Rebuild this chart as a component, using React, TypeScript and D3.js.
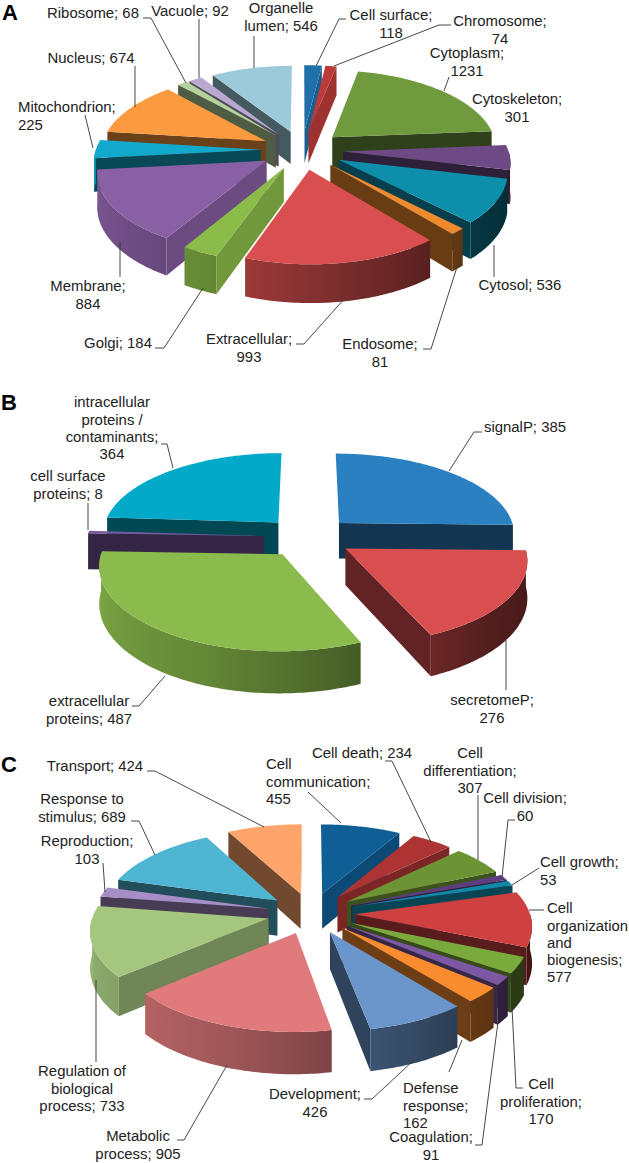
import React from 'react';
import * as d3 from 'd3';

const width = 629;
const height = 1163;

// panel A
const namesA = ['Cell surface', 'Chromosome', 'Cytoplasm', 'Cytoskeleton', 'Cytosol', 'Endosome', 'Extracellular', 'Golgi', 'Membrane', 'Mitochondrion', 'Nucleus', 'Ribosome', 'Vacuole', 'Organelle lumen'];
const valuesA = [118, 74, 1231, 301, 536, 81, 993, 184, 884, 225, 674, 68, 92, 546];
const colorsA = ['#1f6fa8', '#bb3b3a', '#6f9a3e', '#6d4a85', '#0d8fab', '#ef8a2e', '#d94f4f', '#8bbb49', '#8a60a5', '#12a9cc', '#fb9a3e', '#b5d29a', '#b9a9d0', '#9ccadb'];

// panel B
const namesB = ['signalP', 'secretomeP', 'extracellular proteins', 'cell surface proteins', 'intracellular proteins / contaminants'];
const valuesB = [385, 276, 487, 8, 364];
const colorsB = ['#2a80c0', '#d94f4f', '#8bbb4c', '#7a58a0', '#03a9c8'];

// panel C
const namesC = ['Cell communication', 'Cell death', 'Cell differentiation', 'Cell division', 'Cell growth', 'Cell organization and biogenesis', 'Cell proliferation', 'Coagulation', 'Defense response', 'Development', 'Metabolic process', 'Regulation of biological process', 'Reproduction', 'Response to stimulus', 'Transport'];
const valuesC = [455, 234, 307, 60, 53, 577, 170, 91, 162, 426, 905, 733, 103, 689, 424];
const colorsC = ['#0f5f96', '#ae3434', '#6c9434', '#5f3d83', '#0e8aa8', '#cf4040', '#7aaa3c', '#7c57a4', '#f98c2f', '#6a96cc', '#e07a7c', '#a5c67f', '#a78ec6', '#4eb6d2', '#ffa56b'];

type Label = { x: number; y: number; anchor?: string; lines: string[] };

// label and leader layout, in px
const labelsA: Label[] = [
  { x: 93, y: 13, lines: ['Ribosome; 68'] },
  { x: 190, y: 11, lines: ['Vacuole; 92'] },
  { x: 281, y: 8, lines: ['Organelle', 'lumen; 546'] },
  { x: 391, y: 15, lines: ['Cell surface;', '118'] },
  { x: 500, y: 21, lines: ['Chromosome;', '74'] },
  { x: 467, y: 53, lines: ['Cytoplasm;', '1231'] },
  { x: 517, y: 99, lines: ['Cytoskeleton;', '301'] },
  { x: 91, y: 58, lines: ['Nucleus; 674'] },
  { x: 18, y: 107, anchor: 'start', lines: ['Mitochondrion;', '225'] },
  { x: 88, y: 286, lines: ['Membrane;', '884'] },
  { x: 118, y: 343, lines: ['Golgi; 184'] },
  { x: 249, y: 339, lines: ['Extracellular;', '993'] },
  { x: 380, y: 344, lines: ['Endosome;', '81'] },
  { x: 520, y: 285, lines: ['Cytosol; 536'] },
];
const leadersA = [
  [[143, 18], [151, 18], [186, 83]],
  [[199, 19], [199, 78]],
  [[254, 36], [254, 68]],
  [[346, 19], [339, 19], [316, 66]],
  [[451, 25], [439, 25], [334, 66]],
  [[449, 77], [444, 91]],
  [[135, 66], [135, 107]],
  [[85, 115], [93, 148]],
  [[120, 242], [120, 277]],
  [[155, 348], [164, 348], [203, 288]],
  [[296, 344], [304, 344], [345, 298]],
  [[423, 349], [431, 349], [457, 267]],
  [[494, 245], [494, 277]],
];

const labelsB: Label[] = [
  { x: 112, y: 402, lines: ['intracellular', 'proteins /', 'contaminants;', '364'] },
  { x: 68, y: 476, lines: ['cell surface', 'proteins; 8'] },
  { x: 525, y: 427, lines: ['signalP; 385'] },
  { x: 492, y: 700, lines: ['secretomeP;', '276'] },
  { x: 89, y: 701, lines: ['extracellular', 'proteins; 487'] },
];
const leadersB = [
  [[161, 444], [167, 444], [173, 468]],
  [[88, 503], [88, 530]],
  [[482, 432], [474, 432], [449, 471]],
  [[506, 640], [506, 690]],
  [[132, 706], [139, 706], [165, 676]],
];

const labelsC: Label[] = [
  { x: 95, y: 766, lines: ['Transport; 424'] },
  { x: 266, y: 764, anchor: 'start', lines: ['Cell', 'communication;', '455'] },
  { x: 362, y: 753, lines: ['Cell death; 234'] },
  { x: 470, y: 753, lines: ['Cell', 'differentiation;', '307'] },
  { x: 525, y: 798, lines: ['Cell division;', '60'] },
  { x: 540, y: 862, anchor: 'start', lines: ['Cell growth;', '53'] },
  { x: 547, y: 908, anchor: 'start', lines: ['Cell', 'organization', 'and', 'biogenesis;', '577'] },
  { x: 82, y: 799, lines: ['Response to', 'stimulus; 689'] },
  { x: 87, y: 841, lines: ['Reproduction;', '103'] },
  { x: 82, y: 1071, lines: ['Regulation of', 'biological', 'process; 733'] },
  { x: 138, y: 1136, lines: ['Metabolic', 'process; 905'] },
  { x: 315, y: 1094, lines: ['Development;', '426'] },
  { x: 403, y: 1088, anchor: 'start', lines: ['Defense', 'response;', '162'] },
  { x: 431, y: 1137, lines: ['Coagulation;', '91'] },
  { x: 541, y: 1084, lines: ['Cell', 'proliferation;', '170'] },
];
const leadersC = [
  [[147, 771], [155, 771], [264, 827]],
  [[308, 792], [341, 823]],
  [[385, 761], [392, 761], [431, 842]],
  [[478, 795], [478, 860]],
  [[515, 820], [508, 820], [502, 877]],
  [[539, 868], [512, 885]],
  [[544, 910], [529, 910]],
  [[131, 821], [139, 821], [155, 855]],
  [[103, 863], [105, 892]],
  [[96, 980], [96, 1062]],
  [[177, 1140], [184, 1140], [227, 1065]],
  [[364, 1099], [372, 1099], [414, 1060]],
  [[449, 1072], [462, 1040]],
  [[475, 1145], [482, 1145], [498, 1022]],
  [[523, 1088], [516, 1088], [512, 1007]],
];

const panels = [
  { id: 'A', letter: 'A', lx: 2, ly: 20, names: namesA, values: valuesA, colors: colorsA, labels: labelsA, leaders: leadersA, cx: 302, cy: 150, r: 165, k: 78, depth: 33 },
  { id: 'B', letter: 'B', lx: 1, ly: 410, names: namesB, values: valuesB, colors: colorsB, labels: labelsB, leaders: leadersB, cx: 308, cy: 537, r: 177, k: 81, depth: 36 },
  { id: 'C', letter: 'C', lx: 1, ly: 772, names: namesC, values: valuesC, colors: colorsC, labels: labelsC, leaders: leadersC, cx: 311, cy: 913, r: 175, k: 82, depth: 36 },
];

const explode = 0.25;
const persp = 0.12;
const deg = Math.PI / 180;

// how bright a wall is, by the direction it faces (degrees clockwise from the back)
const flatShade = d3.scaleLinear().domain([90, 130, 175, 260]).range([0.88, 0.75, 0.42, 0.45]).clamp(true);
const roundShade = d3.scaleLinear().domain([90, 135, 200, 270]).range([0.3, 0.38, 0.72, 0.92]).clamp(true);

const shade = (c: string, f: number) => {
  const rgb = d3.rgb(c);
  return d3.rgb(rgb.r * f, rgb.g * f, rgb.b * f).formatHex();
};

const linePath = d3.line();

const range = (a0: number, a1: number) => {
  const n = Math.max(2, Math.ceil((a1 - a0) / deg));
  return d3.range(n + 1).map((i) => a0 + ((a1 - a0) * i) / n);
};

const Pie3D = ({ panel }: { panel: (typeof panels)[number] }) => {
  const { cx, cy, r, k, depth, colors, id, names } = panel;
  const arcs = d3.pie<number>().sort(null)(panel.values);

  const slices = arcs.map((d) => {
    const mid = (d.startAngle + d.endAngle) / 2;
    const ox = explode * Math.sin(mid);
    const oy = explode * Math.cos(mid);
    // polar point of this slice on the pie plane, z is the distance below the top face
    const project = (rad: number, a: number, z = 0): [number, number] => {
      const u = ox + rad * Math.sin(a);
      const v = oy + rad * Math.cos(a);
      const s = 1 / (1 + persp * v);
      return [cx + r * u * s, cy - k * v * s + z * depth * s];
    };
    return { d, mid, project, color: colors[d.index], name: names[d.index] };
  });

  const order = d3.sort(slices, (s) => -Math.cos(s.mid));

  return (
    <g>
      {order.map(({ d, project, color, name }) => {
        const a0 = d.startAngle;
        const a1 = d.endAngle;
        const top = range(a0, a1).map((a) => project(1, a));
        const topPath = linePath([project(0, 0), ...top]) + 'Z';

        const walls: { path: string; fill: string }[] = [];
        if (Math.sin(a0) < 0) {
          walls.push({
            path: linePath([project(0, 0), project(1, a0), project(1, a0, 1), project(0, 0, 1)]) + 'Z',
            fill: shade(color, flatShade(((a0 / deg - 90) + 360) % 360)),
          });
        }
        if (Math.sin(a1) > 0) {
          walls.push({
            path: linePath([project(0, 0), project(1, a1), project(1, a1, 1), project(0, 0, 1)]) + 'Z',
            fill: shade(color, flatShade((a1 / deg + 90) % 360)),
          });
        }

        // outer curved wall, only the part that faces the front
        const from = Math.max(a0, 90 * deg);
        const to = Math.min(a1, 270 * deg);
        let round = null;
        if (to > from) {
          const angles = range(from, to);
          const upper = angles.map((a) => project(1, a));
          const lower = angles.map((a) => project(1, a, 1)).reverse();
          const xs = upper.map((p) => p[0]);
          const x1 = d3.min(xs) as number;
          const x2 = d3.max(xs) as number;
          const gid = `${id}-${d.index}`;
          const stops = d3.sort(angles.filter((_, i) => i % 4 === 0).concat([to]), (a) => project(1, a)[0]);
          round = (
            <>
              <linearGradient id={gid} gradientUnits="userSpaceOnUse" x1={x1} x2={x2} y1={0} y2={0}>
                {stops.map((a, i) => (
                  <stop
                    key={i}
                    offset={(project(1, a)[0] - x1) / Math.max(1, x2 - x1)}
                    stopColor={shade(color, roundShade(a / deg))}
                  />
                ))}
              </linearGradient>
              <path d={linePath([...upper, ...lower]) + 'Z'} fill={`url(#${gid})`} />
            </>
          );
        }

        return (
          <g key={d.index}>
            <title>{`${name}; ${d.value}`}</title>
            {walls.map((w, i) => (
              <path key={i} d={w.path} fill={w.fill} />
            ))}
            {round}
            <path d={topPath} fill={color} />
          </g>
        );
      })}
    </g>
  );
};

const App = () => (
  <div style={{ position: 'absolute', left: 0, top: 0 }}>
    <svg width={width} height={height} style={{ display: 'block', background: '#fff' }} fontFamily="'Liberation Sans', Arial, sans-serif">
      {panels.map((panel) => (
        <g key={panel.id}>
          <Pie3D panel={panel} />
          {panel.leaders.map((pts, i) => (
            <path key={i} d={linePath(pts as [number, number][]) as string} fill="none" stroke="#333" strokeWidth={0.9} />
          ))}
          {panel.labels.map((l, i) => (
            <text key={i} fontSize={14.9} fill="#222" textAnchor={l.anchor || 'middle'}>
              {l.lines.map((line, j) => (
                <tspan key={j} x={l.x} y={l.y + j * 17.3} dy="0.35em">
                  {line}
                </tspan>
              ))}
            </text>
          ))}
          <text x={panel.lx} y={panel.ly} fontSize={22} fontWeight="bold" fill="#000">
            {panel.letter}
          </text>
        </g>
      ))}
    </svg>
  </div>
);

export default App;
